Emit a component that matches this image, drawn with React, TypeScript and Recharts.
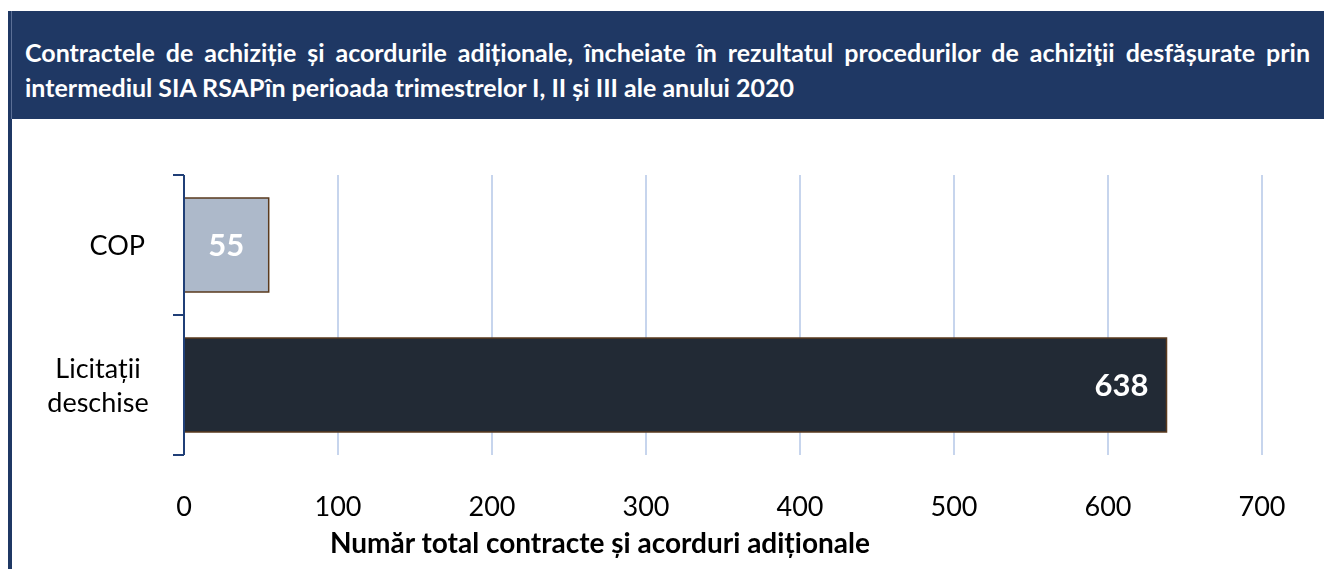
import { BarChart, Bar, XAxis, YAxis, CartesianGrid, Cell, LabelList } from 'recharts'

const categories = ['COP', 'Licitații deschise']
const values = [55, 638]
const barColours = ['#ADB9CA', '#222A35']
const xTicks = [0, 100, 200, 300, 400, 500, 600, 700]

const titleLine1 =
  'Contractele de achiziție și acordurile adiționale, încheiate în rezultatul procedurilor de achiziţii desfășurate prin'
const titleLine2 = 'intermediul SIA RSAPîn perioada trimestrelor I, II și III ale anului 2020'
const axisTitle = 'Număr total contracte și acorduri adiționale'

const data = categories.map((name, i) => ({ name, value: values[i] }))

const NAVY = '#1F3864'
const AXIS = '#203F77'
const FONT = 'Lato, "Open Sans", sans-serif'

function CategoryTick(props: any) {
  const { x, y, payload, index, height } = props
  const n = categories.length
  const band = (height || 280) / n
  const words = String(payload.value).split(' ')
  return (
    <g>
      <line x1={x - 11} x2={x} y1={y - band / 2} y2={y - band / 2} stroke={AXIS} strokeWidth={2} />
      {index === n - 1 && (
        <line x1={x - 11} x2={x} y1={y + band / 2} y2={y + band / 2} stroke={AXIS} strokeWidth={2} />
      )}
      {words.length === 1 ? (
        <text x={x - 39} y={y} dy="0.36em" textAnchor="end" fontSize={27} fontFamily={FONT} fill="#000">
          {words[0]}
        </text>
      ) : (
        <text textAnchor="middle" fontSize={27} fontFamily={FONT} fill="#000">
          <tspan x={x - 86} y={y - 17} dy="0.36em">{words[0]}</tspan>
          <tspan x={x - 86} y={y + 17} dy="0.36em">{words[1]}</tspan>
        </text>
      )}
    </g>
  )
}

function ValueLabel(props: any) {
  const { x, y, width, height, value } = props
  const wide = width > 150
  return (
    <text
      x={wide ? x + width - 18 : x + width / 2}
      y={y + height / 2}
      dy="0.36em"
      textAnchor={wide ? 'end' : 'middle'}
      fontSize={31}
      fontWeight={700}
      fontFamily={FONT}
      fill="#fff"
    >
      {value}
    </text>
  )
}

export default function App() {
  return (
    <div style={{ position: 'fixed', left: 8, top: 8, width: 1316, height: 561, fontFamily: FONT }}>
      <div
        style={{
          position: 'absolute', left: 0, top: 3, width: 1340, height: 108,
          background: NAVY, color: '#fff', boxSizing: 'border-box',
          padding: '24px 38px 0 17px', fontWeight: 700, fontSize: 25, lineHeight: '35px',
        }}
      >
        <div style={{ position: 'absolute', left: 3, top: 0, width: 1, height: 108, background: '#5B6F96' }} />
        <div style={{ textAlign: 'justify', textAlignLast: 'justify', whiteSpace: 'nowrap' as const }}>
          {titleLine1}
        </div>
        <div>{titleLine2}</div>
      </div>
      <div style={{ position: 'absolute', left: 0, top: 111, width: 4, height: 450, background: NAVY }} />
      <div style={{ position: 'absolute', left: 0, top: 111 }}>
        <BarChart
          width={1316}
          height={450}
          data={data}
          layout="vertical"
          margin={{ top: 56, right: 62, bottom: 0, left: 0 }}
        >
          <CartesianGrid horizontal={false} stroke="#B4C7E7" strokeWidth={1.5} />
          <XAxis
            type="number"
            domain={[0, 700]}
            ticks={xTicks}
            axisLine={false}
            tickLine={false}
            tickSize={0}
            tickMargin={42}
            height={114}
            tick={{ fontSize: 27, fill: '#000', fontFamily: FONT }}
            label={(p: any) => {
              const vb = p.viewBox
              return (
                <text
                  x={vb.x + 146}
                  y={vb.y + 98}
                  textAnchor="start"
                  fontSize={28}
                  fontWeight={700}
                  fontFamily={FONT}
                  fill="#000"
                >
                  {axisTitle}
                </text>
              )
            }}
          />
          <YAxis
            type="category"
            dataKey="name"
            width={176}
            axisLine={{ stroke: AXIS, strokeWidth: 2 }}
            tickLine={false}
            tickSize={0}
            tickMargin={0}
            tick={<CategoryTick />}
          />
          <Bar dataKey="value" barSize={94} stroke="#5A3A1E" strokeWidth={1.5} isAnimationActive={false}>
            {data.map((d, i) => (
              <Cell key={d.name} fill={barColours[i]} />
            ))}
            <LabelList dataKey="value" content={<ValueLabel />} />
          </Bar>
        </BarChart>
      </div>
    </div>
  )
}
